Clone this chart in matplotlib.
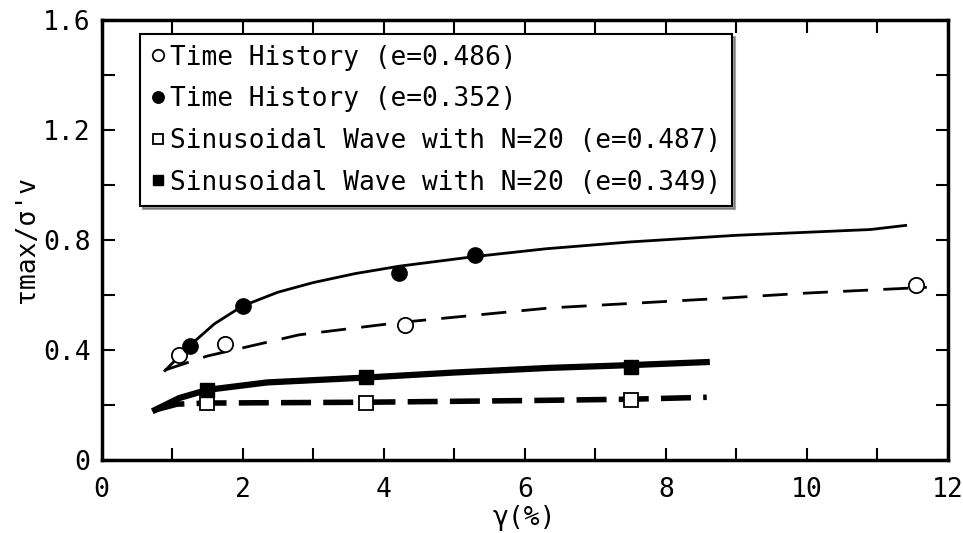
import matplotlib.pyplot as plt

plt.rcParams['font.family'] = ['DejaVu Sans Mono', 'DejaVu Sans']

# measured points
th_open_x = [1.1, 1.75, 4.3, 11.55]
th_open_y = [0.38, 0.42, 0.49, 0.635]
th_fill_x = [1.26, 2.0, 4.22, 5.3]
th_fill_y = [0.415, 0.56, 0.68, 0.745]
sw_open_x = [1.5, 3.75, 7.5]
sw_open_y = [0.207, 0.207, 0.218]
sw_fill_x = [1.5, 3.75, 7.5]
sw_fill_y = [0.255, 0.30, 0.338]

# fitted curves
fit_fill_x = [0.9, 1.26, 1.6, 2.0, 2.5, 3.0, 3.6, 4.23, 5.3, 6.3, 7.5, 9.0, 10.9, 11.4]
fit_fill_y = [0.325, 0.418, 0.495, 0.56, 0.61, 0.645, 0.678, 0.705, 0.74, 0.768, 0.793, 0.817, 0.838, 0.853]
fit_open_x = [0.9, 1.5, 2.8, 4.23, 6.36, 8.6, 10.0, 11.7]
fit_open_y = [0.327, 0.378, 0.455, 0.50, 0.553, 0.585, 0.607, 0.628]
fit_swf_x = [0.76, 1.1, 1.5, 2.35, 3.77, 5.0, 6.36, 7.5, 8.58]
fit_swf_y = [0.182, 0.225, 0.255, 0.282, 0.30, 0.318, 0.335, 0.345, 0.356]
fit_swo_x = [0.76, 1.07, 1.5, 3.75, 6.0, 7.5, 8.58]
fit_swo_y = [0.182, 0.203, 0.207, 0.21, 0.216, 0.221, 0.228]

x_ticks = [0, 2, 4, 6, 8, 10, 12]
y_ticks = [0, 0.4, 0.8, 1.2, 1.6]
y_ticklabels = ['0', '0.4', '0.8', '1.2', '1.6']

fig = plt.figure(figsize=(9.63, 5.33), dpi=100)
ax = fig.add_axes([0.1054, 0.137, 0.879, 0.8255])

ax.plot(fit_fill_x, fit_fill_y, color='black', lw=2.0)
ax.plot(fit_open_x, fit_open_y, color='black', lw=2.0, dashes=(9, 5.5))
ax.plot(fit_swf_x, fit_swf_y, color='black', lw=4.5)
ax.plot(fit_swo_x, fit_swo_y, color='black', lw=4, dashes=(5.4, 2.2))

ax.plot(th_open_x, th_open_y, 'o', ms=11, mfc='white', mec='black', mew=1.3,
        ls='none', label='Time History (e=0.486)')
ax.plot(th_fill_x, th_fill_y, 'o', ms=11, mfc='black', mec='black',
        ls='none', label='Time History (e=0.352)')
ax.plot(sw_open_x, sw_open_y, 's', ms=10, mfc='white', mec='black', mew=1.3,
        ls='none', label='Sinusoidal Wave with N=20 (e=0.487)')
ax.plot(sw_fill_x, sw_fill_y, 's', ms=10, mfc='black', mec='black',
        ls='none', label='Sinusoidal Wave with N=20 (e=0.349)')

ax.set_xlim(0, 12)
ax.set_ylim(0, 1.6)
ax.set_xticks(x_ticks)
ax.set_xticks(range(0, 13), minor=True)
ax.set_yticks(y_ticks)
ax.set_yticklabels(y_ticklabels)
ax.set_yticks([0.2, 0.6, 1.0, 1.4], minor=True)
ax.tick_params(which='both', direction='in', top=True, right=True,
               length=9, width=1.5, labelsize=19)
ax.tick_params(axis='x', which='major', pad=12)
ax.tick_params(axis='y', which='major', pad=8)
for s in ax.spines.values():
    s.set_linewidth(2.5)

ax.set_xlabel('γ(%)', fontsize=19, labelpad=2)
ax.set_ylabel("τmax/σ'v", fontsize=19, labelpad=2)

leg = ax.legend(loc='upper left', bbox_to_anchor=(0.0455, 0.968), borderaxespad=0,
                fontsize=18.8, frameon=True, fancybox=False, shadow=True,
                handletextpad=0.15, handlelength=0.6, borderpad=0.4,
                labelspacing=0.6, markerscale=0.75)
leg.get_frame().set_edgecolor('black')
leg.get_frame().set_linewidth(1.5)

fig.savefig('out.png', dpi=100)
